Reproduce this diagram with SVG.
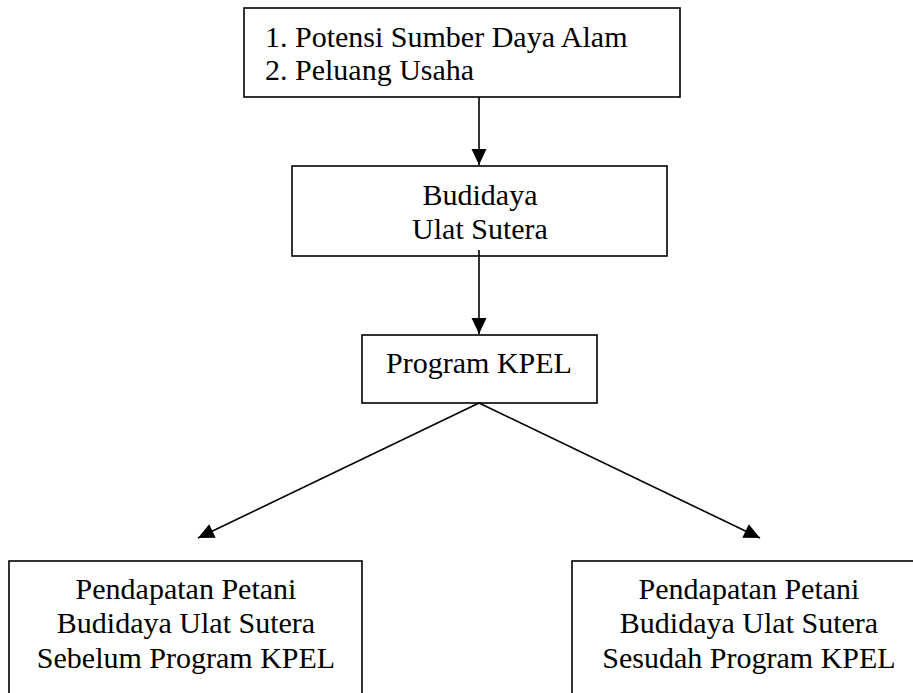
<svg xmlns="http://www.w3.org/2000/svg" width="913" height="693" viewBox="0 0 913 693">
<style>
.box{fill:#fff;stroke:#000;stroke-width:1.6}
.t{font-family:"Liberation Serif","Times New Roman",serif;font-size:30px;fill:#000}
.c{text-anchor:middle}
.ln{stroke:#000;stroke-width:1.6;fill:none}
</style>
<defs>
<marker id="ah" markerUnits="userSpaceOnUse" markerWidth="18" markerHeight="18" viewBox="0 0 18 18" refX="17" refY="9" orient="auto">
<path d="M1,1.5 L17,9 L1,16.5 Z" fill="#000"/>
</marker>
</defs>
<rect width="913" height="693" fill="#fff"/>
<g id="n1">
<rect class="box" x="244" y="8" width="436" height="89"/>
<text class="t" x="265" y="47">1. Potensi Sumber Daya Alam</text>
<text class="t" x="265" y="80">2. Peluang Usaha</text>
</g>
<g id="n2">
<rect class="box" x="292" y="166" width="375" height="90"/>
<text class="t c" x="480" y="205">Budidaya</text>
<text class="t c" x="480" y="239">Ulat Sutera</text>
</g>
<g id="n3">
<rect class="box" x="362" y="335" width="235" height="68"/>
<text class="t c" x="479" y="373">Program KPEL</text>
</g>
<g id="n4">
<rect class="box" x="9" y="561" width="353" height="150"/>
<text class="t c" x="186" y="599">Pendapatan Petani</text>
<text class="t c" x="186" y="633">Budidaya Ulat Sutera</text>
<text class="t c" x="186" y="668">Sebelum Program KPEL</text>
</g>
<g id="n5">
<rect class="box" x="572" y="561" width="354" height="150"/>
<text class="t c" x="749" y="599">Pendapatan Petani</text>
<text class="t c" x="749" y="633">Budidaya Ulat Sutera</text>
<text class="t c" x="749" y="668">Sesudah Program KPEL</text>
</g>
<g id="connectors">
<line class="ln" x1="479" y1="97" x2="479" y2="165" marker-end="url(#ah)"/>
<line class="ln" x1="479" y1="250" x2="479" y2="334" marker-end="url(#ah)"/>
<line class="ln" x1="479" y1="403" x2="198" y2="538" marker-end="url(#ah)"/>
<line class="ln" x1="479" y1="403" x2="760" y2="538" marker-end="url(#ah)"/>
</g>
</svg>
